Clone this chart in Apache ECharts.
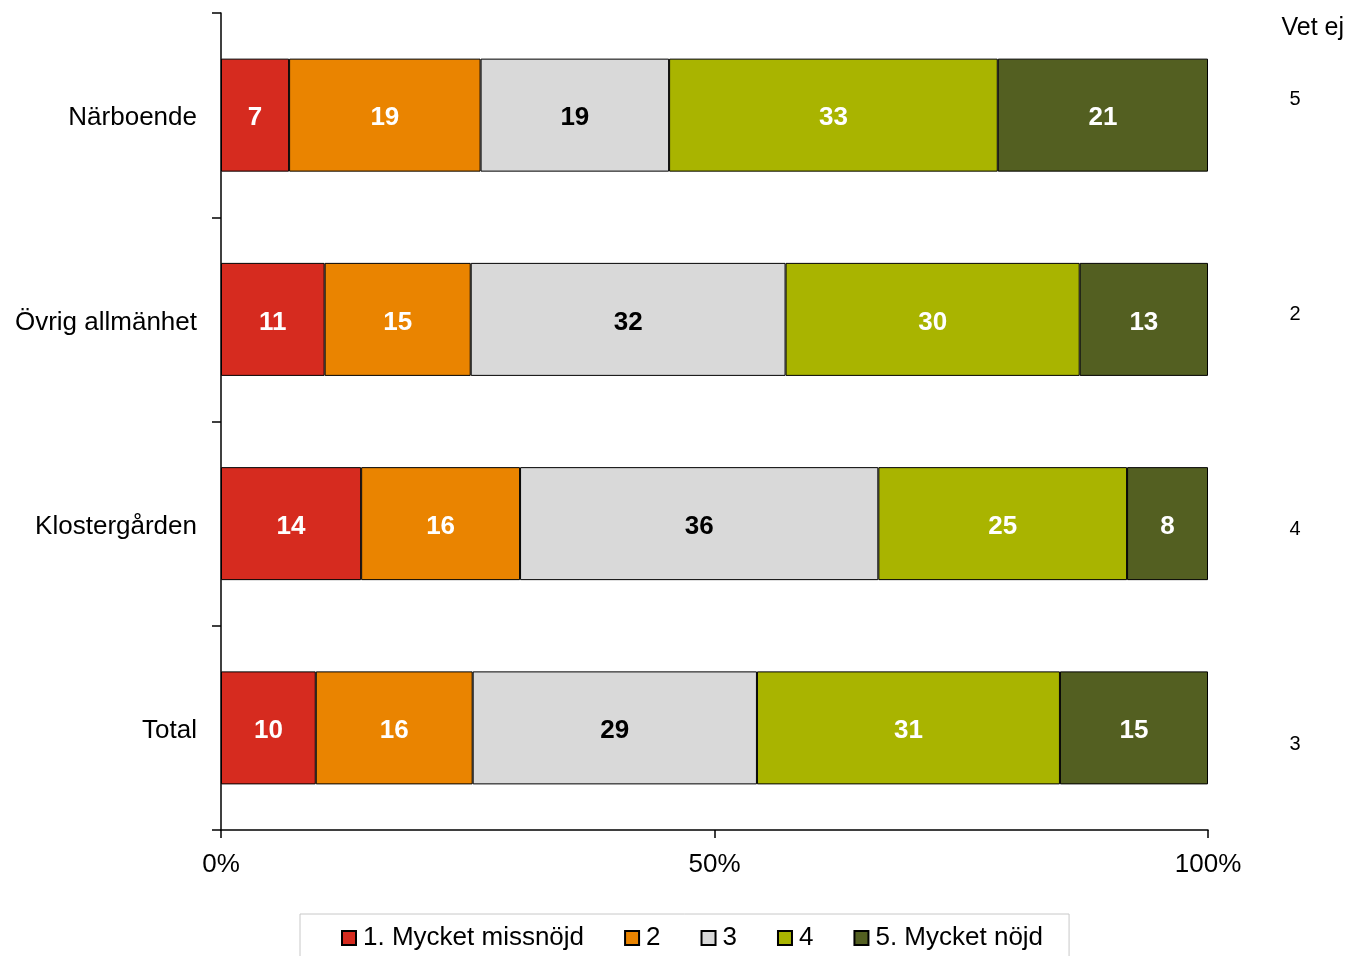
<!DOCTYPE html>
<html>
<head>
<meta charset="utf-8">
<script src="https://cdn.jsdelivr.net/npm/echarts@6/dist/echarts.min.js"></script>
<style>
html,body{margin:0;padding:0;background:#fff;}
#c{width:1349px;height:956px;}
</style>
</head>
<body>
<div id="c"></div>
<script>
var categories = ['Närboende', 'Övrig allmänhet', 'Klostergården', 'Total'];
var seriesNames = ['1. Mycket missnöjd', '2', '3', '4', '5. Mycket nöjd'];
var s1 = [6.9, 10.5, 14.2, 9.6];
var s2 = [19.4, 14.8, 16.1, 15.9];
var s3 = [19.1, 31.9, 36.3, 28.8];
var s4 = [33.3, 29.8, 25.2, 30.7];
var s5 = [21.3, 13.0, 8.2, 15.0];
var vetEj = [5, 2, 4, 3];
var xTicks = [0, 50, 100];

var colors = ['#D62B1F', '#EA8400', '#D9D9D9', '#A9B400', '#535F21'];
var labelColors = ['#fff', '#fff', '#000', '#fff', '#fff'];
var FONT = 'Liberation Sans, Arial, sans-serif';
var data = [s1, s2, s3, s4, s5];

var series = data.map(function (d, i) {
  return {
    name: seriesNames[i],
    type: 'bar',
    stack: 'all',
    barWidth: 113,
    data: d,
    itemStyle: { color: colors[i], borderColor: '#000', borderWidth: 1 },
    label: {
      show: true,
      position: 'inside',
      offset: [0, 3],
      formatter: function (p) { return Math.round(p.value); },
      color: labelColors[i],
      fontFamily: FONT,
      fontWeight: 'bold',
      fontSize: 26
    },
    emphasis: { disabled: true }
  };
});

var chart = echarts.init(document.getElementById('c'), null, { renderer: 'canvas' });
chart.setOption({
  animation: false,
  backgroundColor: '#fff',
  title: {
    text: 'Vet ej',
    right: 0,
    top: 11,
    textStyle: { fontFamily: FONT, fontSize: 25, fontWeight: 'normal', color: '#000' }
  },
  grid: [
    { left: 221, right: 141, top: 13, bottom: 126 },
    { left: 1208, right: 54, top: 0, bottom: 96 }
  ],
  legend: {
    left: 300,
    top: 914,
    padding: [11, 26, 20, 41],
    borderColor: '#c8c8c8',
    borderWidth: 1,
    itemGap: 40,
    itemWidth: 14,
    itemHeight: 14,
    icon: 'rect',
    data: seriesNames,
    textStyle: { fontFamily: FONT, fontSize: 26, color: '#000', padding: [0, 0, 0, 2] }
  },
  xAxis: [
    {
      gridIndex: 0,
      type: 'value',
      min: 0,
      max: 100,
      interval: 50,
      axisLine: { show: true, lineStyle: { color: '#000', width: 1.5 } },
      axisTick: { show: true, length: 8, lineStyle: { color: '#000', width: 1.5 } },
      splitLine: { show: false },
      axisLabel: {
        formatter: function (v) { return xTicks.indexOf(v) >= 0 ? v + '%' : ''; },
        margin: 22,
        fontFamily: FONT,
        fontSize: 26,
        color: '#000'
      }
    },
    { gridIndex: 1, type: 'value', min: 0, max: 1, show: false }
  ],
  yAxis: [
    {
      gridIndex: 0,
      type: 'category',
      inverse: true,
      data: categories,
      axisLine: { show: true, lineStyle: { color: '#000', width: 1.5 } },
      axisTick: { show: true, length: 9, alignWithLabel: false, lineStyle: { color: '#000', width: 1.5 } },
      axisLabel: { margin: 24, fontFamily: FONT, fontSize: 26, color: '#000', verticalAlign: 'top', lineHeight: 6 }
    },
    {
      gridIndex: 1,
      type: 'category',
      inverse: true,
      position: 'right',
      data: vetEj,
      axisLine: { show: false },
      axisTick: { show: false },
      axisLabel: { margin: 0, align: 'center', fontFamily: FONT, fontSize: 20, color: '#000', verticalAlign: 'bottom', lineHeight: 17 }
    }
  ],
  series: series
});
</script>
</body>
</html>
